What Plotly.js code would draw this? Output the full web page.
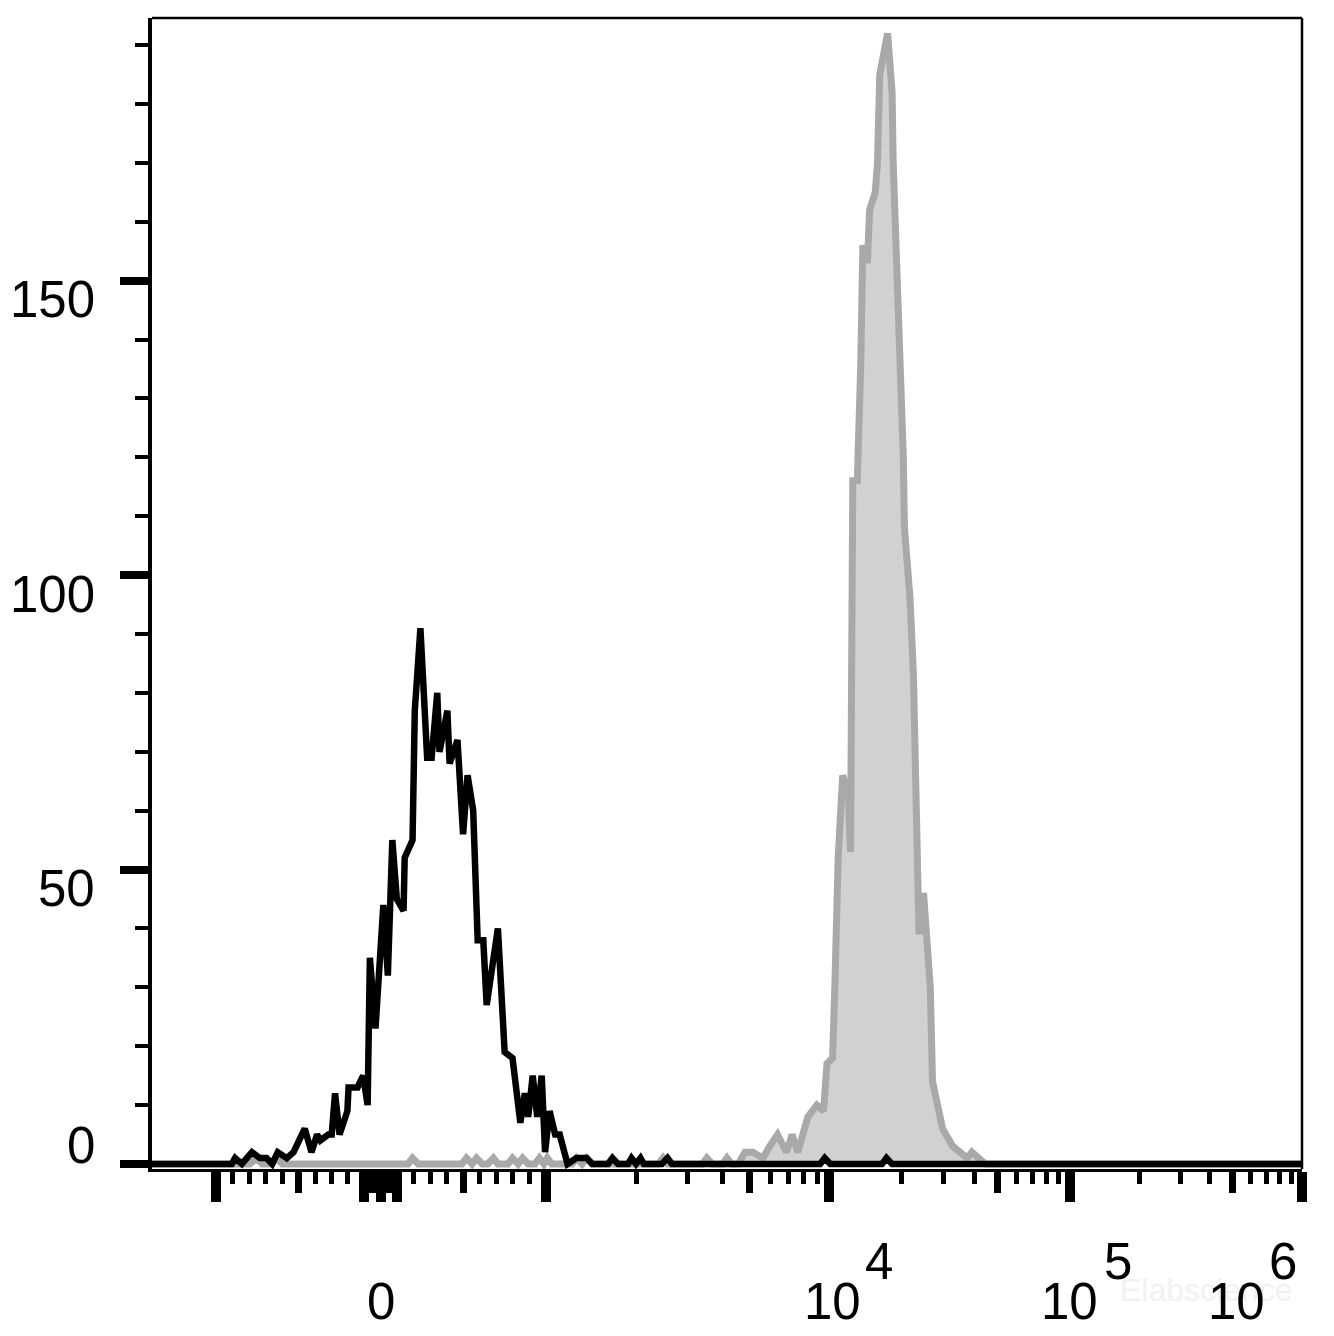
<!DOCTYPE html>
<html><head><meta charset="utf-8">
<script src="https://cdn.plot.ly/plotly-3.0.1.min.js"></script>
<style>html,body{margin:0;padding:0;background:#fff}#chart{width:1334px;height:1336px}</style>
</head><body><div id="chart"></div>
<script>
// Histogram data: x = display channel (0..1024 on the biexponential display), y = events per channel
const unstainedChannel = [0,71,74,80,89,96,102,107,112,120,126,134,136,142,147,150,157,160,163,167,174,175,183,188,192,194,199,206,210,214,218,224,225,232,234,239,245,249,254,256,263,265,272,277,281,286,290,295,298,308,314,321,328,332,335,339,343,347,350,354,359,363,370,378,387,392,406,410,415,424,427,431,435,438,454,459,463,595,599,604,650,654,659,1024];
const unstainedCount   = [0,0,1,0,2,1,1,0,2,1,2,5,6,2,5,4,5,5,12,5,9,13,13,15,10,35,23,44,32,55,45,43,52,55,77,91,69,69,80,70,77,68,72,56,66,60,38,38,27,40,19,18,7,12,8,15,8,15,2,9,5,5,0,1,1,0,0,1,0,0,1,0,1,0,0,1,0,0,1,0,0,1,0,0];

const stainedChannel = [0,87,93,98,107,111,116,228,232,237,276,280,285,289,294,299,304,308,317,321,326,330,335,341,345,349,352,356,374,378,383,387,392,451,455,459,490,494,499,508,512,516,522,528,535,544,550,557,565,570,575,580,584,592,598,601,606,608,611,615,617,620,622,624,628,630,631,633,637,639,644,646,648,655,659,660,663,666,669,670,675,678,680,682,683,687,689,693,695,704,713,719,726,730,735,742,1024];
const stainedCount   = [0,0,1,0,0,1,0,0,1,0,0,1,0,1,0,0,1,0,0,1,0,1,0,0,1,0,1,0,0,1,0,1,0,0,1,0,0,1,0,0,1,0,0,2,2,1,3,5,2,5,2,5,8,10,9,17,18,30,52,66,65,63,53,116,116,125,135,156,153,162,165,170,185,192,182,170,154,133,120,108,96,83,63,48,39,46,40,30,14,6,3,2,1,2,1,0,0];

// Axis ticks (fluorescence intensity) and labels
const yMajorTicks = [0, 50, 100, 150];
const yTickText   = ['0', '50', '100', '150'];
const xMajorTicks  = [-1000, -100, 0, 100, 1000, 1e4, 1e5, 1e6];
const xMediumTicks = [-500, -50, 50, 500, 5e3, 5e4, 5e5];
const xLabelValues = [0, 1e4, 1e5, 1e6];
const xLabelBase   = ['0', '10', '10', '10'];
const xLabelExp    = ['', '4', '5', '6'];

// minor ticks: 1..9 multiples (skipping majors/mediums)
const xMinorTicks = [];
[10, 100].forEach(d => [1,2,3,4,6,7,8,9].forEach(k => { if (!(d===100 && k===1)) { xMinorTicks.push(k*d); xMinorTicks.push(-k*d); } }));
[1e3, 1e4, 1e5].forEach(d => [2,3,4,6,7,8,9].forEach(k => xMinorTicks.push(k*d)));

// Biexponential-like display transform: value -> display channel
const LIN = {zero: 203.9, perThousand: 146.9};
const DEC = [[3, 350.8], [4, 602.8], [5, 817.4], [6, 1024]];
function toChannel(v) {
  if (v <= 1000) return LIN.zero + v / 1000 * LIN.perThousand;
  const L = Math.log10(v);
  for (let i = 0; i < DEC.length - 1; i++) {
    const a = DEC[i][0], ca = DEC[i][1], b = DEC[i + 1][0], cb = DEC[i + 1][1];
    if (L <= b + 1e-9) {
      let t = L - a;
      if (i === 0) t = t + 0.09 * t * (1 - t);
      return ca + (cb - ca) * t;
    }
  }
  return DEC[DEC.length - 1][1];
}

const FONT = 'Liberation Sans, Arial, sans-serif';
const labelFont = {family: FONT, size: 51, color: '#000'};

const traces = [
  {x: stainedChannel, y: stainedCount, type: 'scatter', mode: 'lines',
   line: {color: '#a9a9a9', width: 7}, fill: 'tozeroy', fillcolor: '#d1d1d1',
   xaxis: 'x', yaxis: 'y', hoverinfo: 'skip', showlegend: false},
  {x: unstainedChannel, y: unstainedCount, type: 'scatter', mode: 'lines',
   line: {color: '#000000', width: 6.5},
   xaxis: 'x2', yaxis: 'y', hoverinfo: 'skip', showlegend: false}
];

const xRange = [0, 1024];
const yRange = [-0.85, 194.6];

const annotations = [];
annotations.push({xref: 'paper', yref: 'paper', x: 0.917, xanchor: 'center', y: 0, yanchor: 'middle', yshift: -121,
  text: 'Elabscience', showarrow: false, font: {family: FONT, size: 32, color: '#f1f1f1'}});
yMajorTicks.forEach((v, i) => {
  annotations.push({xref: 'paper', x: 0, xanchor: 'right', xshift: -55, yref: 'y', y: v,
    yanchor: 'middle', yshift: v === 0 ? 18 : -19, text: yTickText[i], showarrow: false, font: labelFont});
});
const baseShift = [0, 4, 0, -66];
const expShift = [0, 50, 48, -19];
xLabelValues.forEach((v, i) => {
  annotations.push({xref: 'x', x: toChannel(v), xanchor: 'center', xshift: baseShift[i], yref: 'paper', y: 0,
    yanchor: 'middle', yshift: -132, text: xLabelBase[i], showarrow: false, font: labelFont});
  if (xLabelExp[i]) annotations.push({xref: 'x', x: toChannel(v), xanchor: 'center', xshift: expShift[i], yref: 'paper', y: 0,
    yanchor: 'middle', yshift: -92, text: xLabelExp[i], showarrow: false, font: labelFont});
});

const layout = {
  width: 1334, height: 1336,
  margin: {l: 152, r: 32, t: 18, b: 167, pad: 0},
  paper_bgcolor: '#fff', plot_bgcolor: '#fff',
  showlegend: false,
  font: {family: FONT, color: '#000'},
  xaxis: {range: xRange, showgrid: false, zeroline: false, showline: true, linecolor: '#000', linewidth: 3,
    ticks: 'outside', tickmode: 'array', tickvals: xMajorTicks.map(toChannel), ticklen: 30, tickwidth: 10, tickcolor: '#000',
    showticklabels: false,
    minor: {tickmode: 'array', tickvals: xMinorTicks.map(toChannel), ticks: 'outside', ticklen: 12, tickwidth: 5, tickcolor: '#000', showgrid: false}},
  xaxis2: {overlaying: 'x', anchor: 'y', side: 'bottom', range: xRange, showgrid: false, zeroline: false,
    showline: true, linecolor: '#000', linewidth: 3,
    ticks: 'outside', tickmode: 'array', tickvals: xMediumTicks.map(toChannel), ticklen: 21, tickwidth: 7, tickcolor: '#000',
    showticklabels: false},
  yaxis: {range: yRange, showgrid: false, zeroline: false, showline: true, linecolor: '#000', linewidth: 4,
    ticks: 'outside', tickmode: 'array', tickvals: yMajorTicks, ticklen: 28, tickwidth: 8, tickcolor: '#000',
    showticklabels: false,
    minor: {dtick: 10, tick0: 0, ticks: 'outside', ticklen: 13, tickwidth: 4, tickcolor: '#000', showgrid: false}},
  shapes: [
    {type: 'line', xref: 'paper', yref: 'paper', x0: 0, x1: 1, y0: 1, y1: 1, line: {color: '#000', width: 2.5}, layer: 'above'},
    {type: 'line', xref: 'paper', yref: 'paper', x0: 1, x1: 1, y0: 0, y1: 1, line: {color: '#000', width: 2.5}, layer: 'above'}
  ],
  annotations: annotations
};

Plotly.newPlot('chart', traces, layout, {staticPlot: true, displayModeBar: false});
</script>
</body></html>
